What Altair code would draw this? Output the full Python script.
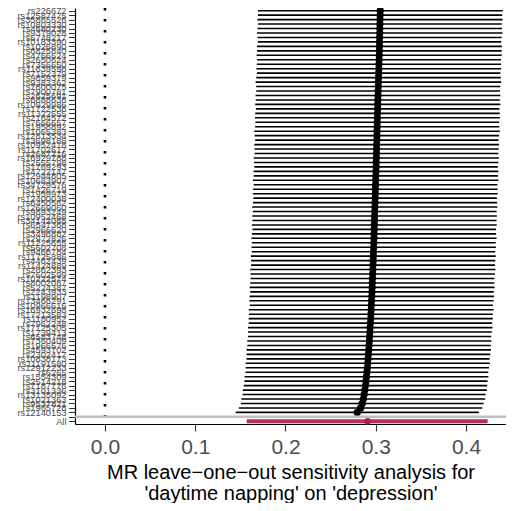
import altair as alt
import pandas as pd

snps = [
    "rs226672", "rs12587475", "rs35865526", "rs10803330", "rs4680230", "rs9379028", "rs6748217", "rs10183390", "rs1026890", "rs6825840",
    "rs4766624", "rs2650624", "rs7356650", "rs11639598", "rs7152379", "rs9859379", "rs9383362", "rs7800075", "rs7900781", "rs2625691",
    "rs6888638", "rs10929986", "rs1722536", "rs11322655", "rs2164572", "rs7666657", "rs1958892", "rs1065383", "rs12813534", "rs3698188",
    "rs10952418", "rs11702617", "rs2687216", "rs16929788", "rs2555798", "rs1769293", "rs4722147", "rs12944805", "rs10683907", "rs34729576",
    "rs1426719", "rs1959973", "rs12400038", "rs6450562", "rs12669060", "rs9893249", "rs10952468", "rs34142065", "rs6547368", "rs2966620",
    "rs3496882", "rs2972826", "rs11225655", "rs5602708", "rs9466784", "rs11725886", "rs4462439", "rs11424889", "rs2862393", "rs7602599",
    "rs10222574", "rs8002087", "rs5224387", "rs2243933", "rs1198907", "rs13466291", "rs10966616", "rs16932698", "rs17213583", "rs1180952",
    "rs7962248", "rs17125305", "rs1739413", "rs6583748", "rs7360409", "rs1966576", "rs4593702", "rs2302417", "rs10838173", "rs11191580",
    "rs12912233", "rs6265", "rs1554309", "rs2514218", "rs7187776", "rs3101336", "rs13135092", "rs1021363", "rs9537821", "rs1965728",
    "rs12140153",
]

b = [
    0.3050, 0.3048, 0.3047, 0.3046, 0.3045, 0.3044, 0.3043, 0.3042, 0.3041, 0.3040,
    0.3038, 0.3037, 0.3035, 0.3034, 0.3032, 0.3031, 0.3029, 0.3028, 0.3026, 0.3025,
    0.3023, 0.3022, 0.3021, 0.3019, 0.3018, 0.3017, 0.3016, 0.3014, 0.3013, 0.3012,
    0.3010, 0.3009, 0.3008, 0.3006, 0.3005, 0.3004, 0.3002, 0.3001, 0.2999, 0.2998,
    0.2996, 0.2995, 0.2993, 0.2992, 0.2990, 0.2989, 0.2987, 0.2986, 0.2984, 0.2983,
    0.2981, 0.2980, 0.2978, 0.2977, 0.2975, 0.2973, 0.2972, 0.2970, 0.2968, 0.2966,
    0.2964, 0.2962, 0.2960, 0.2958, 0.2956, 0.2953, 0.2951, 0.2949, 0.2946, 0.2944,
    0.2941, 0.2938, 0.2935, 0.2932, 0.2929, 0.2926, 0.2922, 0.2919, 0.2915, 0.2911,
    0.2907, 0.2902, 0.2897, 0.2892, 0.2886, 0.2879, 0.2871, 0.2862, 0.2851, 0.2832,
    0.2795,
]

se = [
    0.0692, 0.0690, 0.0693, 0.0689, 0.0691, 0.0694, 0.0690, 0.0688, 0.0692, 0.0691,
    0.0693, 0.0689, 0.0690, 0.0692, 0.0688, 0.0691, 0.0694, 0.0690, 0.0689, 0.0692,
    0.0690, 0.0693, 0.0688, 0.0691, 0.0692, 0.0689, 0.0690, 0.0694, 0.0691, 0.0688,
    0.0692, 0.0690, 0.0689, 0.0693, 0.0691, 0.0688, 0.0692, 0.0690, 0.0694, 0.0689,
    0.0691, 0.0692, 0.0688, 0.0690, 0.0693, 0.0689, 0.0691, 0.0690, 0.0692, 0.0688,
    0.0690, 0.0693, 0.0689, 0.0691, 0.0688, 0.0692, 0.0690, 0.0689, 0.0693, 0.0691,
    0.0689, 0.0690, 0.0692, 0.0688, 0.0691, 0.0690, 0.0687, 0.0692, 0.0689, 0.0690,
    0.0688, 0.0691, 0.0689, 0.0687, 0.0690, 0.0688, 0.0691, 0.0689, 0.0687, 0.0690,
    0.0688, 0.0686, 0.0689, 0.0687, 0.0688, 0.0690, 0.0687, 0.0689, 0.0686, 0.0688,
    0.0687,
]

all_label = "All"
all_b = 0.291
all_lo = 0.157
all_hi = 0.424

x_ticks = [0.0, 0.1, 0.2, 0.3, 0.4]
x_title = ["MR leave\u2212one\u2212out sensitivity analysis for", "'daytime napping' on 'depression'"]

df_snp = pd.DataFrame({
    "SNP": snps,
    "b": b,
    "lo": [bb - 1.96 * s for bb, s in zip(b, se)],
    "hi": [bb + 1.96 * s for bb, s in zip(b, se)],
})
df_all = pd.DataFrame({"SNP": [all_label], "b": [all_b], "lo": [all_lo], "hi": [all_hi]})
df_v = pd.DataFrame({"v": [0.0]})
df_h = pd.DataFrame({"SNP": [""]})

y_domain = snps + ["", all_label]
FONT = "Liberation Sans"

xscale = alt.Scale(domain=[-0.0332, 0.4443], nice=False, zero=False)
xaxis = alt.Axis(
    values=x_ticks, format=".1f", title=x_title,
    labelFontSize=21, labelColor="#4d4d4d", labelFont=FONT, labelPadding=5,
    tickSize=7, tickColor="#333333", tickWidth=1.1,
    domainColor="black", domainWidth=1.2,
    titleFontSize=20, titleFont=FONT, titleColor="black", titleFontWeight="normal",
    titlePadding=5, titleLineHeight=21, grid=False,
)
yscale = alt.Scale(type="point", domain=y_domain, padding=0.6)
yaxis = alt.Axis(
    title=None, labelFontSize=9.3, labelColor="#4d4d4d", labelFont=FONT,
    labelPadding=2.5, labelOverlap=False, labelLimit=200,
    tickSize=6.5, tickColor="#333333", tickWidth=1,
    domainColor="black", domainWidth=1.2, grid=False,
)

vline = alt.Chart(df_v).mark_rule(color="black", strokeDash=[2.5, 8.5], strokeWidth=2.6).encode(
    x=alt.X("v:Q", scale=xscale, axis=xaxis)
)
bars = alt.Chart(df_snp).mark_rule(color="black", strokeWidth=1.6).encode(
    x=alt.X("lo:Q", scale=xscale, axis=xaxis),
    x2="hi:Q",
    y=alt.Y("SNP:O", scale=yscale, axis=yaxis),
)
pts = alt.Chart(df_snp).mark_circle(color="black", size=52, opacity=1).encode(
    x=alt.X("b:Q", scale=xscale, axis=xaxis),
    y=alt.Y("SNP:O", scale=yscale, axis=yaxis),
)
all_bar = alt.Chart(df_all).mark_rule(color="#b92d58", strokeWidth=4).encode(
    x=alt.X("lo:Q", scale=xscale, axis=xaxis),
    x2="hi:Q",
    y=alt.Y("SNP:O", scale=yscale, axis=yaxis),
)
all_pt = alt.Chart(df_all).mark_circle(color="#a8234d", size=45, opacity=1).encode(
    x=alt.X("b:Q", scale=xscale, axis=xaxis),
    y=alt.Y("SNP:O", scale=yscale, axis=yaxis),
)
hline = alt.Chart(df_h).mark_rule(color="#bebebe", strokeWidth=2.5).encode(
    y=alt.Y("SNP:O", scale=yscale, axis=yaxis)
)

chart = alt.layer(vline, bars, pts, all_bar, all_pt, hline).properties(
    width=431, height=416,
    autosize=alt.AutoSizeParams(type="none"),
    padding={"left": 67, "top": 0, "right": 0, "bottom": 79},
).configure_view(stroke=None).configure_axis(grid=False)

chart.save("out.html", embed_options={"renderer": "svg", "actions": False})
